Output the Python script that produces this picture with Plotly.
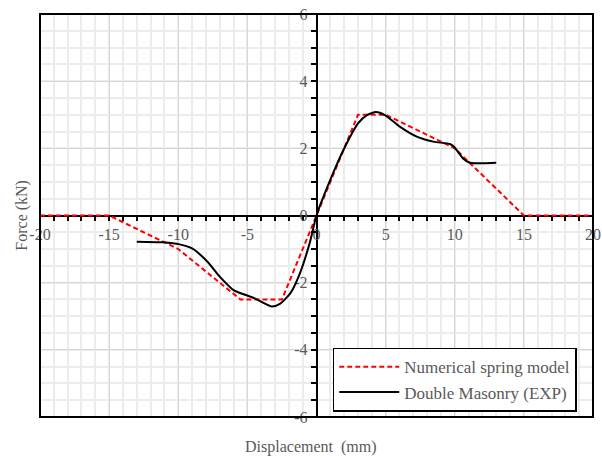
import plotly.graph_objects as go

# Numerical spring model (piecewise linear)
num_x = [-20, -15, -10, -5.5, -2.5, 0, 3, 5, 10, 15, 20]
num_y = [0, 0, -1.0, -2.5, -2.5, 0, 3.0, 3.0, 2.0, 0, 0]

# Double Masonry experimental curve
exp_x = [-13.0, -11.1, -9.9, -9.0, -7.9, -7.0, -6.0, -4.5, -3.25, -2.65, -1.9, -1.2, -0.5, 0,
         1.2, 1.95, 3.0, 3.65, 4.3, 4.95, 6.05, 7.25, 8.45, 9.65, 9.95, 10.6, 11.1, 13.0]
exp_y = [-0.78, -0.80, -0.86, -0.98, -1.37, -1.82, -2.22, -2.46, -2.71, -2.63, -2.32, -1.72, -0.83, 0,
         1.26, 1.95, 2.74, 2.99, 3.08, 2.99, 2.64, 2.35, 2.20, 2.13, 2.05, 1.70, 1.57, 1.57]

x_ticks = [-20, -15, -10, -5, 0, 5, 10, 15, 20]
y_ticks = [-6, -4, -2, 0, 2, 4, 6]

FONT = "Liberation Serif"
GREY = "#595959"

fig = go.Figure()
fig.add_trace(go.Scatter(x=num_x, y=num_y, mode="lines", name="Numerical spring model",
                         line=dict(color="#ff0000", width=2, dash="5px,3px")))
fig.add_trace(go.Scatter(x=exp_x, y=exp_y, mode="lines", name="Double Masonry (EXP)",
                         line=dict(color="black", width=2, shape="spline", smoothing=0.6)))

axis_common = dict(
    showgrid=True, gridcolor="#d6d6d6", gridwidth=1,
    zeroline=False, showline=True, linecolor="black", linewidth=1.5,
    anchor="free", position=0.5, automargin=False, layer="below traces",
    ticks="outside", ticklen=5, tickcolor="black", tickwidth=1.5,
    tickfont=dict(family=FONT, size=16, color=GREY),
)

fig.update_layout(
    width=602, height=458,
    margin=dict(l=40, r=9, t=14, b=41),
    paper_bgcolor="white", plot_bgcolor="white",
    font=dict(family=FONT, size=15, color=GREY),
    showlegend=True,
    legend=dict(x=0.75, y=0.013, xanchor="center", yanchor="bottom",
                bgcolor="white", bordercolor="black", borderwidth=1.5,
                font=dict(family=FONT, size=17, color=GREY),
                tracegroupgap=0, itemwidth=60),
    xaxis=dict(range=[-20, 20], tickvals=x_ticks, ticktext=[str(v) for v in x_ticks],
               minor=dict(dtick=1, showgrid=True, gridcolor="#ececec", gridwidth=2,
                          ticks="outside", ticklen=5, tickcolor="black", tickwidth=1.5),
               **axis_common),
    yaxis=dict(range=[-6, 6], tickvals=y_ticks, ticktext=[str(v) for v in y_ticks],
               minor=dict(dtick=0.5, showgrid=True, gridcolor="#ececec", gridwidth=2,
                          ticks="outside", ticklen=5, tickcolor="black", tickwidth=1.5),
               **axis_common),
    shapes=[dict(type="rect", xref="paper", yref="paper", x0=0, x1=1, y0=0, y1=1,
                 line=dict(color="black", width=2), layer="above")],
    annotations=[
        dict(text="Displacement  (mm)", xref="paper", yref="paper", x=0.49, y=-0.075,
             xanchor="center", yanchor="middle", showarrow=False,
             font=dict(family=FONT, size=16, color=GREY)),
        dict(text="Force (kN)", xref="paper", yref="paper", x=-0.034, y=0.5,
             xanchor="center", yanchor="middle", showarrow=False, textangle=-90,
             font=dict(family=FONT, size=16, color=GREY)),
    ],
)

fig.write_html("out.html")
